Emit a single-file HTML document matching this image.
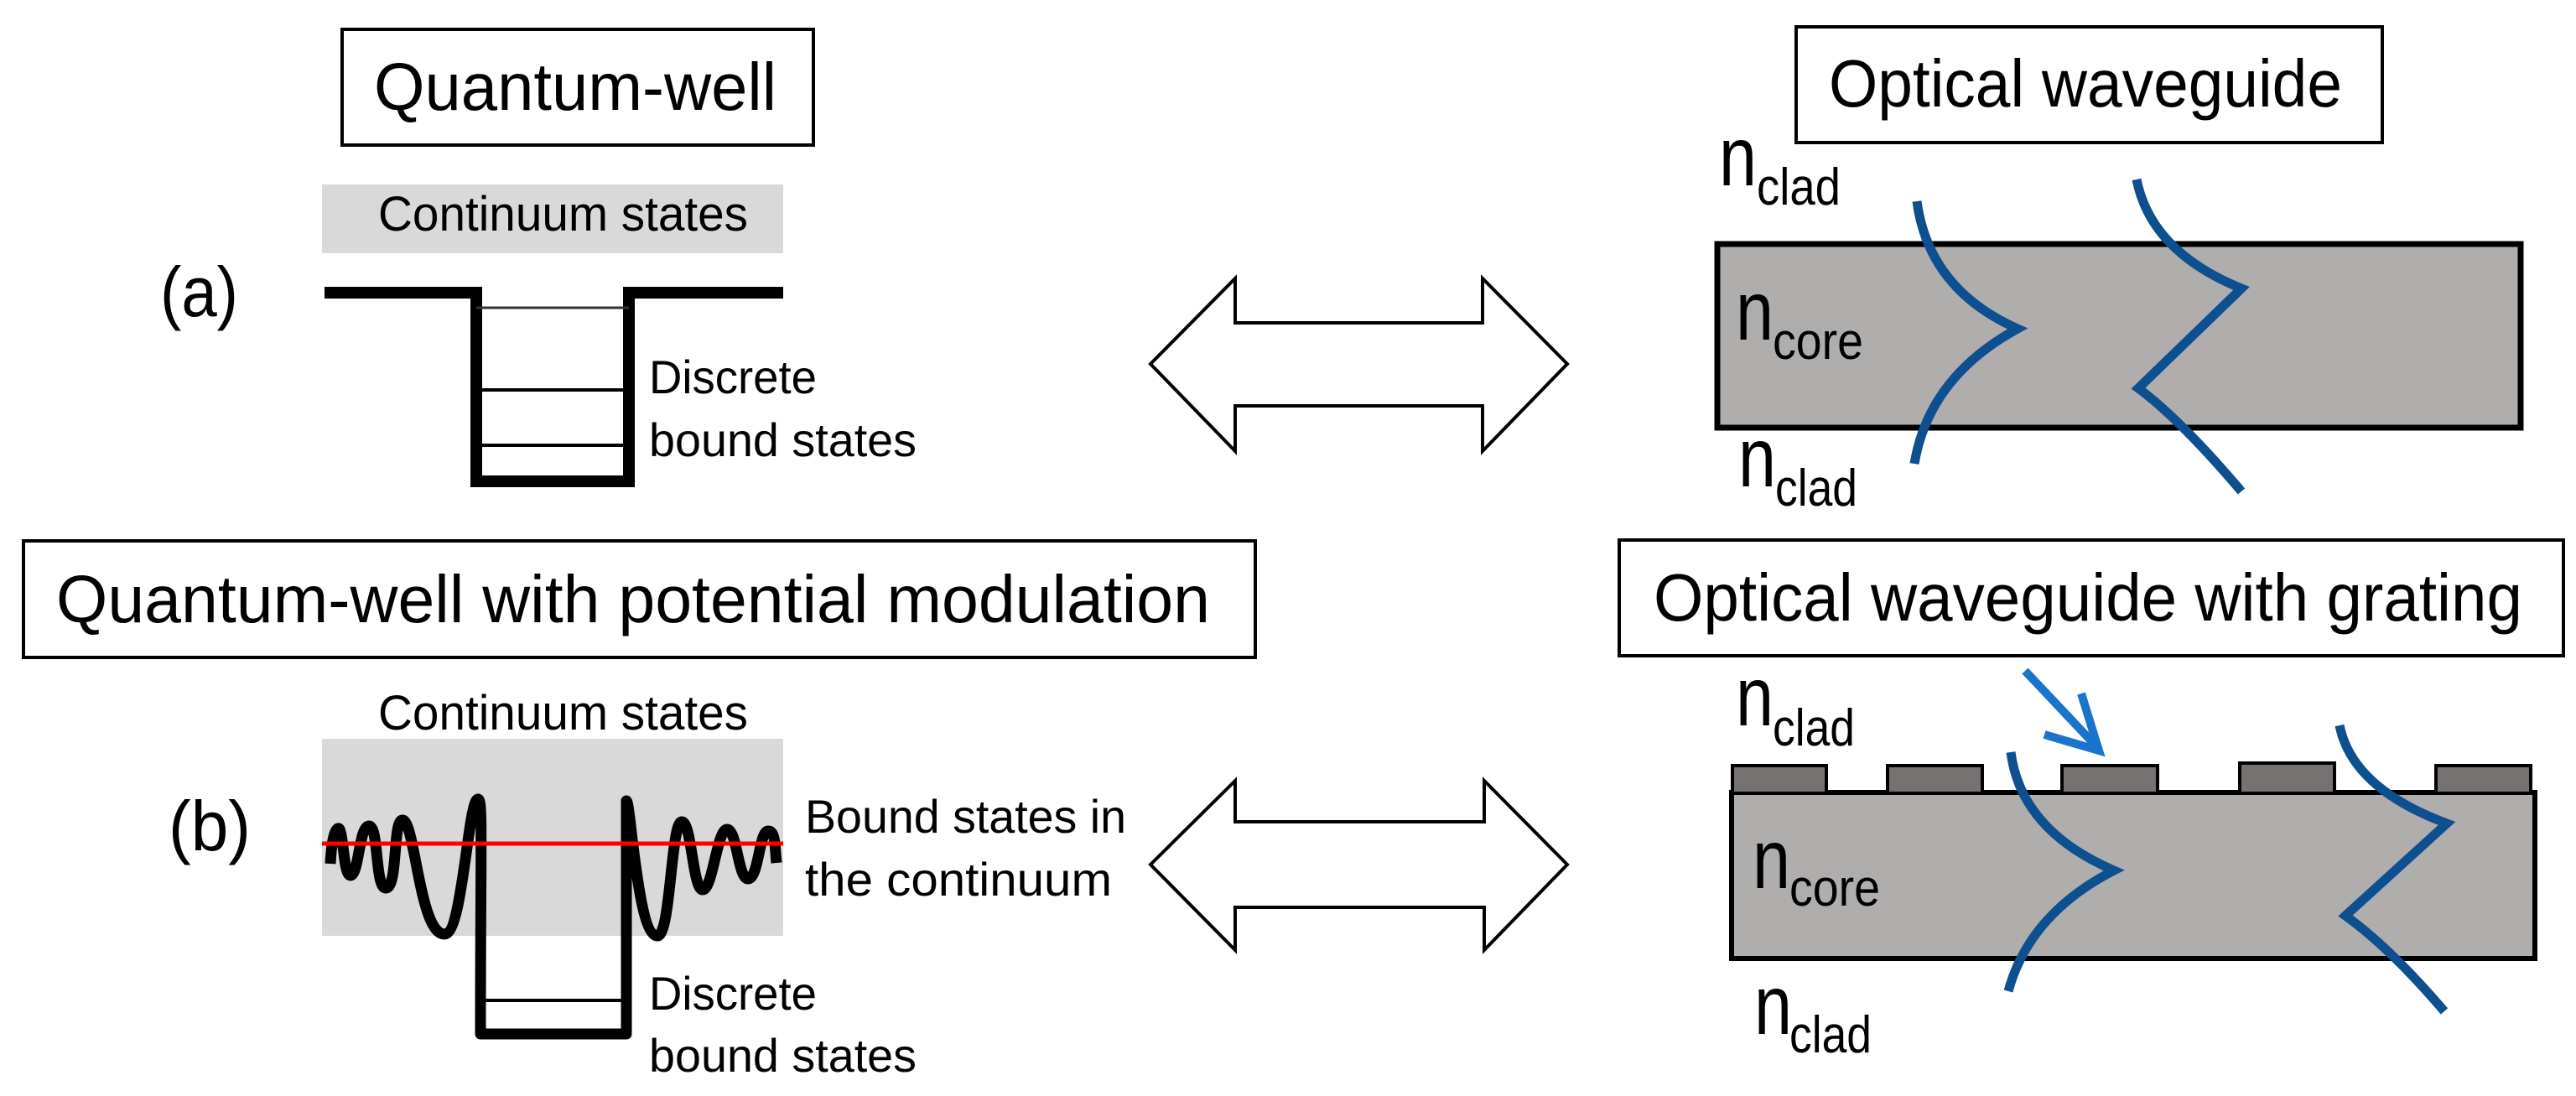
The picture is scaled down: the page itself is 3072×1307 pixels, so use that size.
<!DOCTYPE html>
<html><head><meta charset="utf-8"><style>html,body{margin:0;padding:0;background:#fff}svg{display:block}</style></head>
<body>
<svg width="3072" height="1307" viewBox="0 0 3072 1307" xmlns="http://www.w3.org/2000/svg" font-family="'Liberation Sans', sans-serif">
<rect width="3072" height="1307" fill="#fff"/>
<!-- Titles -->
<rect x="408" y="35" width="562" height="138" fill="#fff" stroke="#000" stroke-width="4"/>
<text x="446" y="131" font-size="80" textLength="480" lengthAdjust="spacingAndGlyphs">Quantum-well</text>
<rect x="2142" y="32" width="699" height="138" fill="#fff" stroke="#000" stroke-width="4"/>
<text x="2181" y="127" font-size="80" textLength="612" lengthAdjust="spacingAndGlyphs">Optical waveguide</text>
<rect x="28" y="645" width="1469" height="139" fill="#fff" stroke="#000" stroke-width="4"/>
<text x="67" y="742" font-size="80" textLength="1376" lengthAdjust="spacingAndGlyphs">Quantum-well with potential modulation</text>
<rect x="1931" y="644" width="1126" height="138" fill="#fff" stroke="#000" stroke-width="4"/>
<text x="1972" y="740" font-size="80" textLength="1036" lengthAdjust="spacingAndGlyphs">Optical waveguide with grating</text>

<!-- (a) quantum well -->
<rect x="384" y="220" width="550" height="82" fill="#d9d9d9"/>
<text x="451" y="275" font-size="58" textLength="441" lengthAdjust="spacingAndGlyphs">Continuum states</text>
<text x="191" y="377" font-size="84" textLength="93" lengthAdjust="spacingAndGlyphs">(a)</text>
<path d="M387,349 L568,349 L568,574 L750,574 L750,349 L934,349" fill="none" stroke="#000" stroke-width="14"/>
<line x1="568" y1="367" x2="750" y2="367" stroke="#333" stroke-width="3"/>
<line x1="568" y1="465" x2="750" y2="465" stroke="#000" stroke-width="4"/>
<line x1="568" y1="531" x2="750" y2="531" stroke="#000" stroke-width="4"/>
<text x="774" y="469" font-size="56" textLength="200" lengthAdjust="spacingAndGlyphs">Discrete</text>
<text x="774" y="544" font-size="56" textLength="319" lengthAdjust="spacingAndGlyphs">bound states</text>

<!-- arrows -->
<path d="M1372,434 L1473,332 L1473,385 L1768,385 L1768,332 L1869,434 L1768,538 L1768,484 L1473,484 L1473,538 Z" fill="#fff" stroke="#000" stroke-width="4"/>
<path d="M1372,1031 L1473,931 L1473,980 L1770,980 L1770,931 L1869,1031 L1770,1133 L1770,1082 L1473,1082 L1473,1133 Z" fill="#fff" stroke="#000" stroke-width="4"/>

<!-- top waveguide -->
<rect x="2048" y="291" width="958" height="219" fill="#b0adad" stroke="#000" stroke-width="7"/>
<text x="2050" y="221" font-size="100" textLength="45" lengthAdjust="spacingAndGlyphs">n</text>
<text x="2095" y="244" font-size="62" textLength="100" lengthAdjust="spacingAndGlyphs">clad</text>
<text x="2070" y="405" font-size="100" textLength="45" lengthAdjust="spacingAndGlyphs">n</text>
<text x="2114" y="428" font-size="62" textLength="108" lengthAdjust="spacingAndGlyphs">core</text>
<text x="2073" y="580" font-size="100" textLength="45" lengthAdjust="spacingAndGlyphs">n</text>
<text x="2117" y="603" font-size="62" textLength="98" lengthAdjust="spacingAndGlyphs">clad</text>
<g fill="none" stroke="#0d4f8f" stroke-width="11" stroke-linejoin="miter">
<path d="M2286,240 Q2300,345 2406,392 Q2300,450 2283,553"/>
<path d="M2548,214 Q2565,300 2673,344 L2550,463 Q2600,500 2673,586"/>
</g>

<!-- (b) modulated well -->
<text x="451" y="870" font-size="58" textLength="441" lengthAdjust="spacingAndGlyphs">Continuum states</text>
<rect x="384" y="881" width="550" height="235" fill="#d9d9d9"/>
<text x="201" y="1014" font-size="84" textLength="98" lengthAdjust="spacingAndGlyphs">(b)</text>
<path d="M394,1030 C396,990 403,985 405,989 C410,1000 410,1044 418,1044 C428,1044 428,985 440,985 C452,985 447,1059 460,1059 C475,1059 468,978 480,978 C495,978 500,1114 530,1114 C552,1114 558,953 570,953 C576,953 573,1000 573,1233 L747,1233 L747,955 C752,955 760,1116 784,1116 C800,1116 800,980 813,980 C825,980 826,1061 838,1061 C850,1061 855,989 867,989 C879,989 880,1048 892,1048 C905,1048 905,991 916,991 C925,991 924,1010 926,1029" fill="none" stroke="#000" stroke-width="13" stroke-linejoin="round"/>
<line x1="384" y1="1006" x2="934" y2="1006" stroke="#ff0000" stroke-width="5"/>
<line x1="573" y1="1193" x2="747" y2="1193" stroke="#000" stroke-width="4"/>
<text x="960" y="993" font-size="56" textLength="383" lengthAdjust="spacingAndGlyphs">Bound states in</text>
<text x="960" y="1068" font-size="56" textLength="366" lengthAdjust="spacingAndGlyphs">the continuum</text>
<text x="774" y="1204" font-size="56" textLength="200" lengthAdjust="spacingAndGlyphs">Discrete</text>
<text x="774" y="1278" font-size="56" textLength="319" lengthAdjust="spacingAndGlyphs">bound states</text>

<!-- bottom waveguide -->
<rect x="2065" y="945" width="958" height="198" fill="#b0adad" stroke="#000" stroke-width="6"/>
<g fill="#777272" stroke="#000" stroke-width="4">
<rect x="2066" y="913" width="112" height="33"/>
<rect x="2251" y="913" width="113" height="33"/>
<rect x="2459" y="913" width="114" height="33"/>
<rect x="2671" y="910" width="113" height="36"/>
<rect x="2905" y="913" width="113" height="33"/>
</g>
<text x="2070" y="865" font-size="100" textLength="45" lengthAdjust="spacingAndGlyphs">n</text>
<text x="2114" y="889" font-size="62" textLength="98" lengthAdjust="spacingAndGlyphs">clad</text>
<text x="2090" y="1059" font-size="100" textLength="45" lengthAdjust="spacingAndGlyphs">n</text>
<text x="2134" y="1080" font-size="62" textLength="108" lengthAdjust="spacingAndGlyphs">core</text>
<text x="2092" y="1233" font-size="100" textLength="45" lengthAdjust="spacingAndGlyphs">n</text>
<text x="2134" y="1255" font-size="62" textLength="98" lengthAdjust="spacingAndGlyphs">clad</text>
<g fill="none" stroke="#0d4f8f" stroke-width="11">
<path d="M2398,897 Q2410,990 2521,1038 Q2420,1090 2395,1182"/>
<path d="M2790,865 Q2805,940 2918,982 L2797,1092 Q2850,1130 2915,1206"/>
</g>
<g fill="none" stroke="#1a74cc" stroke-width="10">
<line x1="2415" y1="800" x2="2500" y2="890"/>
<path d="M2438,876 L2503,895 L2482,827"/>
</g>
</svg>
</body></html>
